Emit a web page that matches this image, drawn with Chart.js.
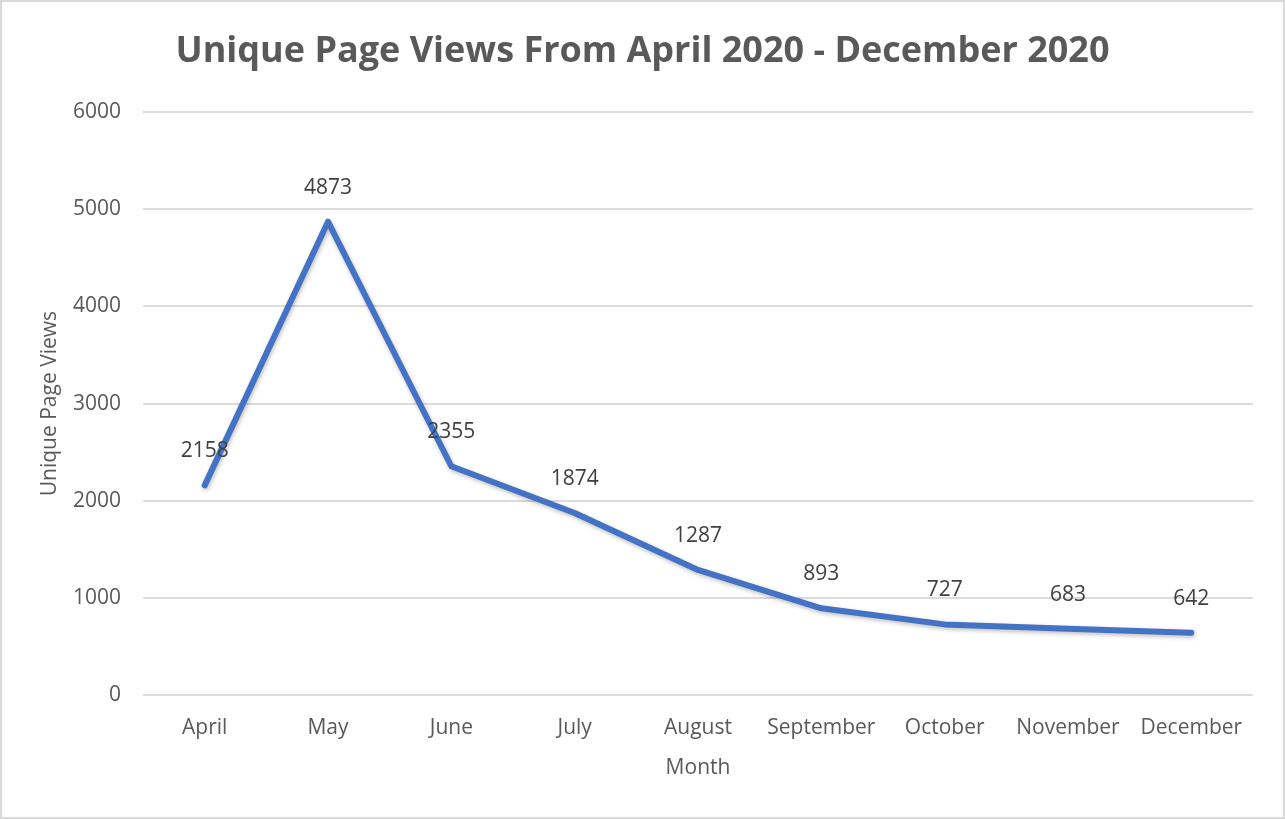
<!DOCTYPE html>
<html>
<head>
<meta charset="utf-8">
<script src="https://cdn.jsdelivr.net/npm/chart.js@4/dist/chart.umd.min.js"></script>
<style>
    html, body {
        margin: 0;
        padding: 0;
        background: #ffffff;
    }

    .chart-box {
        position: absolute;
        left: 0;
        top: 0;
        width: 1285px;
        height: 819px;
        box-sizing: border-box;
        border: 2px solid #d9d9d9;
        background: #ffffff;
    }

    #views-chart {
        display: block;
    }
</style>
</head>
<body>
<div class="chart-box">
    <canvas id="views-chart" width="1281" height="815"></canvas>
</div>
<script>
// Chart data
const months = ['April', 'May', 'June', 'July', 'August', 'September', 'October', 'November', 'December'];
const pageViews = [2158, 4873, 2355, 1874, 1287, 893, 727, 683, 642];
const yTicks = [0, 1000, 2000, 3000, 4000, 5000, 6000];

const FONT = "'Open Sans', 'Liberation Sans', sans-serif";

// Draws the value above each point, like Excel data labels
const valueLabels = {
    id: 'valueLabels',
    afterDatasetsDraw(chart) {
        const ctx = chart.ctx;
        const meta = chart.getDatasetMeta(0);
        ctx.save();
        ctx.font = '21px ' + FONT;
        ctx.fillStyle = '#404040';
        ctx.textAlign = 'center';
        ctx.textBaseline = 'middle';
        meta.data.forEach((pt, i) => {
            ctx.fillText(String(pageViews[i]), pt.x, pt.y - 34);
        });
        ctx.restore();
    }
};

// Soft shadow under the line
const lineShadow = {
    id: 'lineShadow',
    beforeDatasetDraw(chart) {
        const ctx = chart.ctx;
        ctx.save();
        ctx.shadowColor = 'rgba(0, 0, 0, 0.25)';
        ctx.shadowBlur = 4;
        ctx.shadowOffsetX = 1;
        ctx.shadowOffsetY = 2;
    },
    afterDatasetDraw(chart) {
        chart.ctx.restore();
    }
};

const viewsChart = new Chart(document.getElementById('views-chart').getContext('2d'), {
    type: 'line',
    data: {
        labels: months,
        datasets: [{
            label: 'Unique Page Views',
            data: pageViews,
            borderColor: '#4472C4',
            borderWidth: 6,
            borderCapStyle: 'round',
            borderJoinStyle: 'round',
            pointRadius: 0,
            pointHoverRadius: 0,
            tension: 0,
            fill: false
        }]
    },
    options: {
        responsive: false,
        animation: false,
        events: [],
        layout: {
            padding: { left: 30, right: 30, top: 0, bottom: 0 }
        },
        plugins: {
            legend: { display: false },
            tooltip: { enabled: false },
            title: {
                display: true,
                text: 'Unique Page Views From April 2020 - December 2020',
                color: '#595959',
                font: { family: FONT, size: 36, weight: 'bold' },
                padding: { top: 28, bottom: 39 }
            }
        },
        scales: {
            x: {
                offset: true,
                grid: { display: false, drawTicks: false },
                border: { display: false },
                ticks: {
                    color: '#595959',
                    font: { family: FONT, size: 21 },
                    padding: 20,
                    maxRotation: 0,
                    autoSkip: false
                },
                title: {
                    display: true,
                    text: 'Month',
                    color: '#595959',
                    font: { family: FONT, size: 21 },
                    padding: { top: 4, bottom: 36 }
                },
                afterFit(scale) {
                    scale.height = 122;
                }
            },
            y: {
                min: 0,
                max: 6000,
                afterBuildTicks(scale) {
                    scale.ticks = yTicks.map(v => ({ value: v }));
                },
                grid: {
                    color: '#dcdcdc',
                    lineWidth: 2,
                    drawTicks: false
                },
                border: { display: false },
                ticks: {
                    color: '#595959',
                    font: { family: FONT, size: 21 },
                    padding: 22,
                    callback: value => String(value)
                },
                title: {
                    display: true,
                    text: 'Unique Page Views',
                    color: '#595959',
                    font: { family: FONT, size: 21 },
                    padding: { top: 5, bottom: 4 }
                },
                afterFit(scale) {
                    scale.width = 111;
                }
            }
        }
    },
    plugins: [lineShadow, valueLabels]
});
</script>
</body>
</html>
